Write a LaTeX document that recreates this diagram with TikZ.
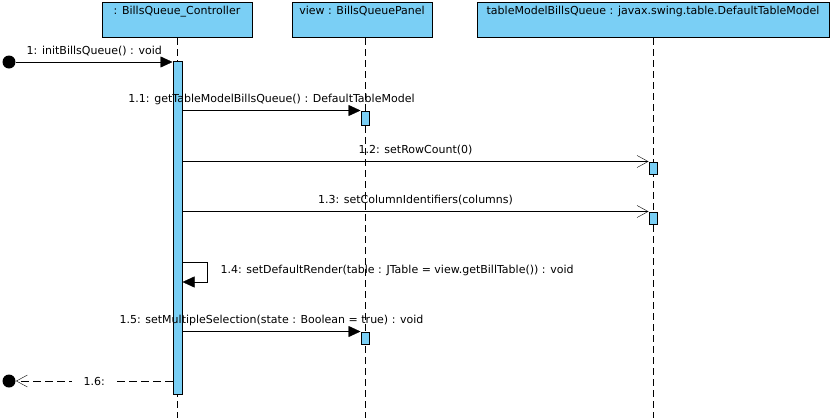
\documentclass[tikz,border=0pt]{standalone}
\usepackage{fontspec}
\setmainfont{DejaVu Sans}
\usepackage{xcolor}
\usepackage{tikz}
\usetikzlibrary{arrows.meta, positioning}
\definecolor{vpblue}{HTML}{7ACFF5}
\pgfdeclarelayer{bg}
\pgfsetlayers{bg,main}

\begin{document}
\begin{tikzpicture}[x=1pt,y=-1pt,line width=1pt,
    every node/.style={font=\fontsize{11}{13}\selectfont},
    obj/.style={draw,fill=vpblue,anchor=north,inner ysep=2pt,text height=10pt,text depth=21pt},
    act/.style={draw,fill=vpblue,minimum width=8pt,inner sep=0pt},
    dot/.style={circle,fill=black,minimum size=13pt,inner sep=0pt},
    lifeline/.style={dash pattern=on 7pt off 4pt},
    call/.style={-{Triangle[length=12pt,width=11pt]}},
    async/.style={-{Straight Barb[length=11pt,width=12pt]}},
    ret/.style={dash pattern=on 8pt off 4pt,-{Straight Barb[length=11pt,width=12pt]}},
    msg/.style={anchor=base,yshift=8pt}]
    \useasboundingbox (0,0) rectangle (834,418);

    \node[obj,minimum width=150pt] (ctrl) at (177,2) {: BillsQueue\_Controller};
    \node[obj,minimum width=140pt] (view) at (362,2) {view : BillsQueuePanel};
    \node[obj,minimum width=352pt] (model) at (653,2) {tableModelBillsQueue : javax.swing.table.DefaultTableModel};

    \node[act,minimum width=9pt,minimum height=333pt] (c1) at (177.5,227.5) {};
    \node[act,minimum height=14pt] (v1) at (365,118) {};
    \node[act,minimum height=12pt] (m1) at (653,168) {};
    \node[act,minimum height=12pt] (m2) at (653,218) {};
    \node[act,minimum height=12pt] (v2) at (365,338) {};

    \node[dot] (start) at (9,62) {};
    \node[dot] (stop) at (9,381) {};
    \coordinate (bottom) at (0,418);

    \begin{pgfonlayer}{bg}
    \draw[lifeline] (ctrl.south) -- (ctrl.south |- bottom);
    \draw[lifeline] (v1.north |- view.south) -- (v1.north |- bottom);
    \draw[lifeline] (model.south) -- (model.south |- bottom);
    \end{pgfonlayer}

    \draw[call] (start) -- node[msg] {1: initBillsQueue() : void} (start -| c1.west);
    \draw[call] (c1.east |- v1.north) -- node[msg] {1.1: getTableModelBillsQueue() : DefaultTableModel} (v1.north west);
    \draw[async] (c1.east |- m1.north) -- node[msg] {1.2: setRowCount(0)} (m1.north west);
    \draw[async] (c1.east |- m2.north) -- node[msg] {1.3: setColumnIdentifiers(columns)} (m2.north west);
    \coordinate (self) at (c1.east |- 0,262);
    \draw[call] (self) -- ++(25,0) -- ++(0,20) -- (c1.east |- 0,282);
    \node[anchor=base west] (l4) at (217,273) {1.4: setDefaultRender(table : JTable = view.getBillTable()) : void};
    \draw[call] (c1.east |- v2.north) -- node[msg] {1.5: setMultipleSelection(state : Boolean = true) : void} (v2.north west);
    \draw[ret] (stop -| c1.west) -- node[fill=white,inner xsep=12pt] {1.6:} (stop.east);
\end{tikzpicture}
\end{document}
